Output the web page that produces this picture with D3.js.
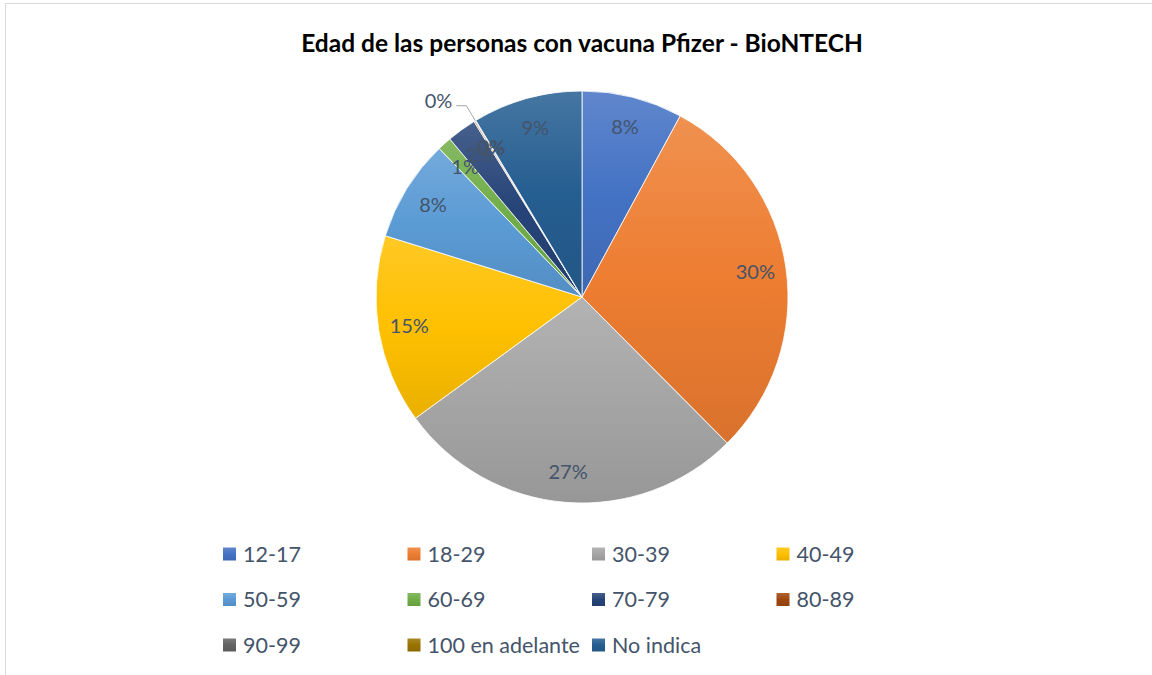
<!DOCTYPE html>
<html>
<head>
<meta charset="utf-8">
<script src="https://cdn.jsdelivr.net/npm/d3@7"></script>
<style>
  body { margin: 0; background: #fff; }
  text { font-family: Lato, "Open Sans", sans-serif; }
</style>
</head>
<body>
<svg width="1152" height="675"></svg>
<script>
// grupos de edad y su parte (%)
var ages = ["12-17", "18-29", "30-39", "40-49", "50-59", "60-69", "70-79",
            "80-89", "90-99", "100 en adelante", "No indica"];
var shares = [7.9, 29.6, 27.4, 14.8, 8.0, 1.1, 2.3, 0.1, 0.05, 0.02, 8.6];
var colors = ["#4472C4", "#ED7D31", "#A5A5A5", "#FFC000", "#5B9BD5", "#70AD47",
              "#264478", "#9E480E", "#636363", "#997300", "#255E91"];

var title = "Edad de las personas con vacuna Pfizer - BioNTECH";

var svg = d3.select("svg"),
    cx = 582, cy = 297, radius = 206;

var textColor = "#44546A";

// marco del gráfico
svg.append("rect")
    .attr("x", 5.5).attr("y", 3.5)
    .attr("width", 1200).attr("height", 700)
    .attr("fill", "none")
    .attr("stroke", "#D9D9D9");

// degradados tipo Office: claro arriba, oscuro abajo
var defs = svg.append("defs");
colors.forEach(function(c, i) {
  var g = defs.append("linearGradient")
      .attr("id", "grad" + i)
      .attr("x1", 0).attr("y1", 0).attr("x2", 0).attr("y2", 1);
  g.append("stop").attr("offset", "0%").attr("stop-color", d3.interpolateRgb(c, "#fff")(0.15));
  g.append("stop").attr("offset", "50%").attr("stop-color", c);
  g.append("stop").attr("offset", "100%").attr("stop-color", d3.color(c).darker(0.25));
});

// título
var t = svg.append("text")
    .attr("x", cx).attr("y", 52)
    .attr("text-anchor", "middle")
    .attr("font-weight", "bold")
    .attr("font-size", 24)
    .attr("fill", "#000")
    .text(title);
var tw = t.node().getComputedTextLength();
t.attr("font-size", 24 * 562 / tw);

var data = ages.map(function(a, i) { return {age: a, value: shares[i], idx: i}; });
var total = d3.sum(shares);

var pie = d3.pie().sort(null).value(function(d) { return d.value; });
var arcs = pie(data);

var arc = d3.arc().innerRadius(0).outerRadius(radius);
var labelArc = d3.arc().innerRadius(radius * 0.85).outerRadius(radius * 0.85);
var edgeArc = d3.arc().innerRadius(radius).outerRadius(radius);
var elbowArc = d3.arc().innerRadius(radius * 1.085).outerRadius(radius * 1.085);

var g = svg.append("g")
    .attr("transform", "translate(" + cx + "," + cy + ")");

g.selectAll(".slice")
  .data(arcs)
  .enter().append("path")
    .attr("class", "slice")
    .attr("d", arc)
    .attr("fill", function(d) { return "url(#grad" + d.data.idx + ")"; })
    .attr("stroke", "#fff")
    .attr("stroke-width", 0.8);

var fmt = d3.format(".0%");
var outside = "90-99";

// etiquetas dentro
g.selectAll(".lbl")
  .data(arcs.filter(function(d) { return d.data.age != outside; }))
  .enter().append("text")
    .attr("class", "lbl")
    .attr("transform", function(d) { return "translate(" + labelArc.centroid(d) + ")"; })
    .attr("text-anchor", "middle")
    .attr("dy", "0.35em")
    .attr("font-size", 20)
    .attr("fill", textColor)
    .text(function(d) { return fmt(d.data.value / total); });

// etiqueta fuera con línea guía
arcs.filter(function(d) { return d.data.age == outside; }).forEach(function(d) {
  var p0 = edgeArc.centroid(d),
      p1 = elbowArc.centroid(d),
      p2 = [p1[0] - 10, p1[1]];
  g.append("polyline")
      .attr("points", [p0, p1, p2].map(function(p) { return p.join(","); }).join(" "))
      .attr("fill", "none")
      .attr("stroke", "#A6A6A6")
      .attr("stroke-width", 1);
  g.append("text")
      .attr("x", p2[0] - 4).attr("y", p2[1] - 5)
      .attr("text-anchor", "end")
      .attr("dy", "0.35em")
      .attr("font-size", 20)
      .attr("fill", textColor)
      .text(fmt(d.data.value / total));
});

// leyenda
var cols = 4, colW = 184.5, rowH = 45.5, lx = 223, ly = 554;

var leg = svg.selectAll(".leg")
  .data(data)
  .enter().append("g")
    .attr("class", "leg")
    .attr("transform", function(d, i) {
      return "translate(" + (lx + (i % cols) * colW) + "," + (ly + Math.floor(i / cols) * rowH) + ")";
    });

leg.append("rect")
    .attr("x", 0).attr("y", -6.5)
    .attr("width", 13).attr("height", 13)
    .attr("fill", function(d) { return "url(#grad" + d.idx + ")"; });

leg.append("text")
    .attr("x", 20)
    .attr("dy", "0.36em")
    .attr("font-size", 21.5)
    .attr("fill", textColor)
    .text(function(d) { return d.age; });
</script>
</body>
</html>
